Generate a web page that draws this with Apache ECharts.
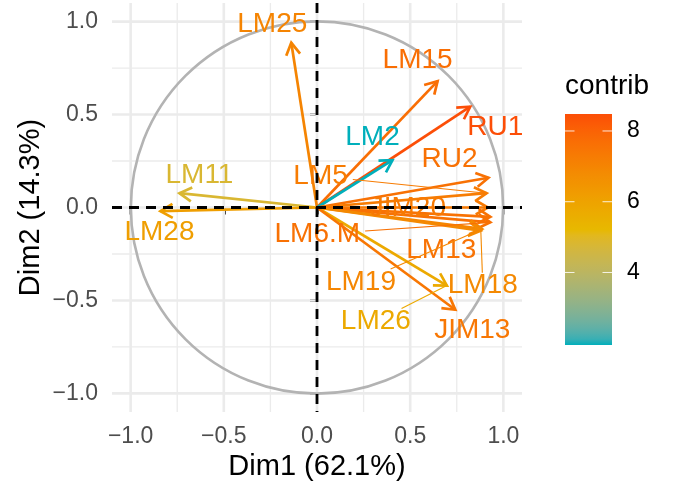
<!DOCTYPE html>
<html>
<head>
<meta charset="utf-8">
<script src="https://cdn.jsdelivr.net/npm/echarts@6/dist/echarts.min.js"></script>
<style>
  html, body { margin: 0; padding: 0; background: #ffffff; }
  #chart { width: 673px; height: 490px; }
</style>
</head>
<body>
<div id="chart"></div>
<script>
// Variables of the correlation circle: coordinates on Dim1 / Dim2 and contribution (%)
const variables = ['LM25', 'LM15', 'RU1', 'LM2', 'RU2', 'LM5', 'JIM20', 'LM13', 'LM6.M', 'LM19', 'LM18', 'LM26', 'JIM13', 'LM11', 'LM28'];
const dim1 = [-0.138, 0.647, 0.822, 0.405, 0.920, 0.910, 0.917, 0.930, 0.930, 0.885, 0.879, 0.697, 0.742, -0.738, -0.840];
const dim2 = [0.886, 0.680, 0.542, 0.255, 0.160, 0.077, 0.000, -0.050, -0.080, -0.115, -0.125, -0.420, -0.550, 0.077, -0.020];
const contrib = [7.02, 7.69, 8.48, 1.95, 7.61, 7.28, 7.34, 7.56, 7.60, 6.95, 6.88, 5.78, 7.44, 4.81, 6.16];

// Axis ticks and grid
const axisTicks = [-1, -0.5, 0, 0.5, 1];
const minorTicks = [-0.75, -0.25, 0.25, 0.75];
const legendTicks = [4, 6, 8];

// Axis titles and legend title
const xTitle = 'Dim1 (62.1%)';
const yTitle = 'Dim2 (14.3%)';
const legendTitle = 'contrib';

// Repelled label placement: pixel offset of the label centre from the arrow tip, and whether a leader segment is drawn
const labelLayout = {
  'LM25': [-19, -19, false], 'LM15': [-20, -21, false], 'RU1': [25, 21, false],
  'LM2': [-20, -23, false], 'RU2': [-39, -18, false], 'LM5': [-166, -17, true],
  'JIM20': [-80, 1, false], 'LM13': [-49, 33, false], 'LM6.M': [-173, 12, true],
  'LM19': [-121, 53, true], 'LM18': [2, 55, true], 'LM26': [-71, 36, true],
  'JIM13': [17, 21, false], 'LM11': [20, -18, false], 'LM28': [-1, 21, false]
};

const FONT = '"Liberation Sans", Arial, Helvetica, sans-serif';
const PALETTE = ['#00AFBB', '#E7B800', '#FC4E07'];

// ---- colour gradient interpolated in CIE Lab ----
function toLin(c) { c /= 255; return c <= 0.04045 ? c / 12.92 : Math.pow((c + 0.055) / 1.055, 2.4); }
function toSrgb(c) {
  const v = c <= 0.0031308 ? 12.92 * c : 1.055 * Math.pow(c, 1 / 2.4) - 0.055;
  return Math.round(Math.max(0, Math.min(1, v)) * 255);
}
const XN = 0.95047, YN = 1.0, ZN = 1.08883;
function hexToLab(hex) {
  const r = toLin(parseInt(hex.slice(1, 3), 16));
  const g = toLin(parseInt(hex.slice(3, 5), 16));
  const b = toLin(parseInt(hex.slice(5, 7), 16));
  const X = (0.4124 * r + 0.3576 * g + 0.1805 * b) / XN;
  const Y = (0.2126 * r + 0.7152 * g + 0.0722 * b) / YN;
  const Z = (0.0193 * r + 0.1192 * g + 0.9505 * b) / ZN;
  const f = t => t > 0.008856 ? Math.cbrt(t) : 7.787 * t + 16 / 116;
  const fx = f(X), fy = f(Y), fz = f(Z);
  return [116 * fy - 16, 500 * (fx - fy), 200 * (fy - fz)];
}
function labToHex(lab) {
  const fy = (lab[0] + 16) / 116, fx = fy + lab[1] / 500, fz = fy - lab[2] / 200;
  const inv = t => { const t3 = t * t * t; return t3 > 0.008856 ? t3 : (t - 16 / 116) / 7.787; };
  const X = XN * inv(fx), Y = YN * inv(fy), Z = ZN * inv(fz);
  const r = 3.2406 * X - 1.5372 * Y - 0.4986 * Z;
  const g = -0.9689 * X + 1.8758 * Y + 0.0415 * Z;
  const b = 0.0557 * X - 0.2040 * Y + 1.0570 * Z;
  return 'rgb(' + toSrgb(r) + ',' + toSrgb(g) + ',' + toSrgb(b) + ')';
}
const paletteLab = PALETTE.map(hexToLab);
function rampColor(t) {
  t = Math.max(0, Math.min(1, t));
  const s = t * (paletteLab.length - 1);
  const i = Math.min(Math.floor(s), paletteLab.length - 2);
  const f = s - i, a = paletteLab[i], b = paletteLab[i + 1];
  return labToHex([a[0] + (b[0] - a[0]) * f, a[1] + (b[1] - a[1]) * f, a[2] + (b[2] - a[2]) * f]);
}
const cMin = Math.min.apply(null, contrib);
const cMax = Math.max.apply(null, contrib);
const colorFor = v => rampColor((v - cMin) / (cMax - cMin));

// text measuring for leader segments
const measureCtx = document.createElement('canvas').getContext('2d');
measureCtx.font = '28px ' + FONT;

const fmt = v => (v < 0 ? '\u2212' : '') + Math.abs(v).toFixed(1);
const arrowData = variables.map((n, i) => [dim1[i], dim2[i], contrib[i]]);

const chart = echarts.init(document.getElementById('chart'), null, { renderer: 'canvas' });

// panel corners in pixels
function panel(api) {
  const tl = api.coord([-1.1, 1.1]);
  const br = api.coord([1.1, -1.1]);
  return { x0: tl[0], y0: tl[1], x1: br[0], y1: br[1] };
}

// ---- colour bar legend ----
const bar = { x: 565, y: 114, w: 47, h: 231 };
const stops = [];
for (let k = 0; k <= 40; k++) stops.push({ offset: k / 40, color: rampColor(k / 40) });
const legendGraphics = [
  { type: 'rect', shape: { x: bar.x, y: bar.y, width: bar.w, height: bar.h },
    style: { fill: new echarts.graphic.LinearGradient(0, 1, 0, 0, stops) }, silent: true },
  { type: 'text', x: bar.x, y: 86,
    style: { text: legendTitle, fill: '#000000', fontSize: 28, fontFamily: FONT, align: 'left', verticalAlign: 'middle' } }
];
legendTicks.forEach(v => {
  const y = bar.y + bar.h - (v - cMin) / (cMax - cMin) * bar.h;
  legendGraphics.push(
    { type: 'line', shape: { x1: bar.x, y1: y, x2: bar.x + 9.5, y2: y }, style: { stroke: 'rgba(255,255,255,0.85)', lineWidth: 1 } },
    { type: 'line', shape: { x1: bar.x + bar.w - 9.5, y1: y, x2: bar.x + bar.w, y2: y }, style: { stroke: 'rgba(255,255,255,0.85)', lineWidth: 1 } },
    { type: 'text', x: 627, y: y,
      style: { text: String(v), fill: '#000000', fontSize: 23, fontFamily: FONT, align: 'left', verticalAlign: 'middle' } }
  );
});
legendGraphics.push(
  { type: 'text', x: 317, y: 467,
    style: { text: xTitle, fill: '#000000', fontSize: 29, fontFamily: FONT, align: 'center', verticalAlign: 'middle' } },
  { type: 'text', x: 31, y: 207.5, rotation: Math.PI / 2,
    style: { text: yTitle, fill: '#000000', fontSize: 29, fontFamily: FONT, align: 'center', verticalAlign: 'middle' } }
);

const axisCommon = {
  type: 'value', min: -1.1, max: 1.1,
  axisLine: { show: false },
  splitLine: { show: false },
  axisTick: { show: true, customValues: axisTicks, length: 7, lineStyle: { color: '#000000', width: 2.6 } },
  axisLabel: { customValues: axisTicks, formatter: fmt, fontSize: 23, color: '#4D4D4D', fontFamily: FONT }
};

const option = {
  animation: false,
  backgroundColor: '#ffffff',
  grid: { left: 112, right: 151, top: 3, bottom: 78 },
  xAxis: Object.assign({}, axisCommon, { axisLabel: Object.assign({}, axisCommon.axisLabel, { margin: 13 }) }),
  yAxis: Object.assign({}, axisCommon, { axisLabel: Object.assign({}, axisCommon.axisLabel, { margin: 14 }) }),
  graphic: legendGraphics,
  series: [
    // background grid
    {
      type: 'custom', z: 1, silent: true, data: [[0, 0]],
      renderItem: function (params, api) {
        const p = panel(api);
        const children = [];
        const addLines = (vals, width) => vals.forEach(v => {
          const cx = api.coord([v, 0])[0];
          const cy = api.coord([0, v])[1];
          children.push({ type: 'line', shape: { x1: cx, y1: p.y0, x2: cx, y2: p.y1 }, style: { stroke: '#EBEBEB', lineWidth: width } });
          children.push({ type: 'line', shape: { x1: p.x0, y1: cy, x2: p.x1, y2: cy }, style: { stroke: '#EBEBEB', lineWidth: width } });
        });
        addLines(minorTicks, 1.3);
        addLines(axisTicks, 2.6);
        return { type: 'group', children: children };
      }
    },
    // unit correlation circle
    {
      type: 'custom', z: 2, silent: true, data: [[0, 0]],
      renderItem: function (params, api) {
        const c = api.coord([0, 0]);
        const s = api.size([1, 1]);
        return { type: 'circle', shape: { cx: c[0], cy: c[1], r: (s[0] + s[1]) / 2 },
                 style: { fill: null, stroke: '#B3B3B3', lineWidth: 2.6 } };
      }
    },
    // variable arrows
    {
      type: 'custom', z: 3, silent: true, data: arrowData,
      renderItem: function (params, api) {
        const o = api.coord([0, 0]);
        const p = api.coord([api.value(0), api.value(1)]);
        const col = colorFor(api.value(2));
        const dx = p[0] - o[0], dy = p[1] - o[1];
        const len = Math.hypot(dx, dy), ux = dx / len, uy = dy / len;
        const L = 14, ca = Math.cos(Math.PI / 6), sa = Math.sin(Math.PI / 6);
        const w1 = [p[0] - L * (ux * ca - uy * sa), p[1] - L * (uy * ca + ux * sa)];
        const w2 = [p[0] - L * (ux * ca + uy * sa), p[1] - L * (uy * ca - ux * sa)];
        return { type: 'group', children: [
          { type: 'line', shape: { x1: o[0], y1: o[1], x2: p[0], y2: p[1] }, style: { stroke: col, lineWidth: 2.7 } },
          { type: 'polyline', shape: { points: [w1, p, w2] }, style: { stroke: col, fill: null, lineWidth: 2.7, lineJoin: 'miter' } }
        ] };
      }
    },
    // variable labels with leader segments
    {
      type: 'custom', z: 4, silent: true, data: arrowData,
      renderItem: function (params, api) {
        const name = variables[params.dataIndex];
        const lay = labelLayout[name];
        const col = colorFor(api.value(2));
        const t = api.coord([api.value(0), api.value(1)]);
        const c = [t[0] + lay[0], t[1] + lay[1]];
        const children = [];
        if (lay[2]) {
          const hw = measureCtx.measureText(name).width / 2 + 5, hh = 13;
          const dx = t[0] - c[0], dy = t[1] - c[1];
          const s = Math.min(dx !== 0 ? hw / Math.abs(dx) : Infinity, dy !== 0 ? hh / Math.abs(dy) : Infinity);
          children.push({ type: 'line', shape: { x1: c[0] + s * dx, y1: c[1] + s * dy, x2: t[0], y2: t[1] },
                          style: { stroke: col, lineWidth: 1.1 } });
        }
        children.push({ type: 'text', x: c[0], y: c[1],
          style: { text: name, fill: col, fontSize: 28, fontFamily: FONT, align: 'center', verticalAlign: 'middle' } });
        return { type: 'group', children: children };
      }
    },
    // dashed reference lines through the origin
    {
      type: 'custom', z: 5, silent: true, data: [[0, 0]],
      renderItem: function (params, api) {
        const p = panel(api);
        const o = api.coord([0, 0]);
        const st = { stroke: '#000000', lineWidth: 2.8, lineDash: [10, 7] };
        return { type: 'group', children: [
          { type: 'line', shape: { x1: p.x0, y1: o[1], x2: p.x1, y2: o[1] }, style: st },
          { type: 'line', shape: { x1: o[0], y1: p.y0, x2: o[0], y2: p.y1 }, style: st }
        ] };
      }
    }
  ]
};
chart.setOption(option);
</script>
</body>
</html>
